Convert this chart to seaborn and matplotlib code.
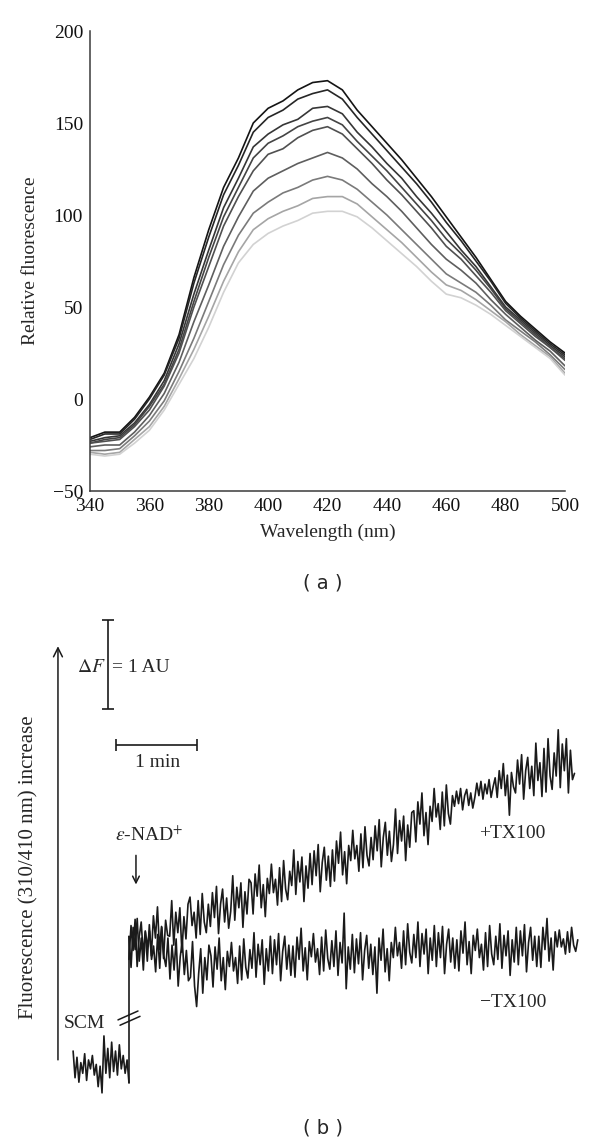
import numpy as np
import pandas as pd
import matplotlib
matplotlib.use("Agg")
import matplotlib.pyplot as plt
import seaborn as sns

# ---------------- panel (a): emission spectra ----------------
WAVELENGTH_NM = list(range(340, 501, 5))

SCAN_1 = [-21, -18, -18, -10, 1, 14, 35, 66, 92, 115, 131, 150, 158, 162, 168, 172, 173,
          168, 157, 148, 139, 130, 120, 110, 99, 88, 77, 65, 53, 45, 38, 31, 25]
SCAN_2 = [-22, -19, -19, -11, 0, 13, 33, 63, 88, 111, 127, 145, 153, 157, 163, 166, 168,
          163, 153, 144, 135, 126, 117, 107, 96, 86, 75, 64, 52, 44, 37, 30, 24]
SCAN_3 = [-23, -21, -20, -13, -3, 10, 30, 57, 81, 104, 120, 137, 144, 149, 152, 158, 159,
          155, 145, 137, 128, 120, 110, 101, 91, 81, 72, 61, 50, 43, 36, 29, 23]
SCAN_4 = [-24, -22, -21, -14, -4, 8, 27, 53, 77, 99, 115, 131, 139, 143, 148, 151, 153,
          149, 140, 132, 124, 115, 106, 97, 87, 79, 70, 60, 49, 42, 35, 28, 22]
SCAN_5 = [-24, -23, -22, -15, -6, 7, 25, 50, 72, 94, 110, 124, 133, 136, 142, 146, 148,
          144, 136, 128, 119, 111, 102, 93, 83, 76, 67, 58, 48, 41, 34, 28, 21]
SCAN_6 = [-26, -25, -25, -18, -9, 3, 20, 42, 62, 83, 99, 113, 120, 124, 128, 131, 134,
          131, 125, 117, 110, 102, 93, 84, 76, 70, 63, 54, 46, 39, 32, 26, 18]
SCAN_7 = [-28, -28, -27, -20, -12, -1, 15, 33, 53, 73, 89, 101, 107, 112, 115, 119, 121,
          119, 114, 107, 100, 92, 84, 76, 68, 63, 58, 51, 43, 37, 31, 24, 16]
SCAN_8 = [-29, -30, -29, -22, -15, -4, 11, 27, 45, 64, 80, 92, 98, 102, 105, 109, 110,
          110, 106, 99, 92, 85, 77, 69, 62, 59, 54, 48, 42, 35, 29, 23, 14]
SCAN_9 = [-30, -31, -30, -24, -17, -6, 8, 22, 39, 58, 74, 84, 90, 94, 97, 101, 102,
          102, 99, 93, 86, 79, 72, 64, 57, 55, 51, 46, 40, 34, 28, 22, 13]

SCAN_GRAYS = ["#141414", "#262626", "#363636", "#444444", "#505050",
              "#5e5e5e", "#7a7a7a", "#a5a5a5", "#d2d2d2"]

# ---------------- panel (b): kinetic traces ----------------
# SCM baseline before the break (minutes before the addition)
SCM_MIN = -0.69
SCM_SIGNAL = [0.55, 0.25, 0.48, 0.20, 0.42, 0.30, 0.52, 0.22, 0.45, 0.35,
              0.50, 0.28, 0.40, 0.15, 0.38, 0.08, 0.72, 0.30, 0.58, 0.25,
              0.65, 0.32, 0.55, 0.28, 0.62, 0.35, 0.50, 0.30, 0.45, 0.19]

TRACE_MIN = 5.5
PLUS_TX100 = [
    1.58, 1.96, 1.68, 2.03, 1.50, 1.83, 2.00, 1.63, 1.90, 1.56,
    1.97, 1.62, 2.07, 1.82, 2.17, 1.69, 1.95, 1.59, 2.02, 1.85,
    1.84, 2.24, 1.74, 2.11, 1.88, 2.16, 1.66, 2.06, 1.81, 2.20,
    2.28, 1.96, 2.11, 1.82, 2.24, 1.86, 2.32, 2.00, 1.88, 2.20,
    1.95, 2.33, 2.05, 2.40, 1.87, 2.20, 2.37, 2.00, 2.27, 1.93,
    2.12, 2.52, 2.02, 2.39, 2.16, 2.44, 1.94, 2.34, 2.09, 2.48,
    2.44, 2.09, 2.54, 2.29, 2.64, 2.16, 2.42, 2.06, 2.49, 2.32,
    2.65, 2.33, 2.48, 2.19, 2.61, 2.23, 2.69, 2.37, 2.25, 2.57,
    2.41, 2.81, 2.31, 2.68, 2.45, 2.73, 2.23, 2.63, 2.38, 2.77,
    2.42, 2.80, 2.52, 2.87, 2.34, 2.67, 2.84, 2.47, 2.74, 2.40,
    2.81, 2.46, 2.91, 2.66, 3.01, 2.53, 2.79, 2.43, 2.86, 2.69,
    3.03, 2.71, 2.86, 2.57, 2.99, 2.61, 3.07, 2.75, 2.63, 2.95,
    2.70, 3.08, 2.80, 3.15, 2.62, 2.95, 3.12, 2.75, 3.02, 2.68,
    2.87, 3.27, 2.77, 3.14, 2.91, 3.19, 2.69, 3.09, 2.84, 3.23,
    3.25, 2.90, 3.35, 3.10, 3.45, 2.97, 3.23, 2.87, 3.30, 3.13,
    3.50, 3.18, 3.33, 3.04, 3.46, 3.08, 3.54, 3.22, 3.10, 3.42,
    3.30, 3.47, 3.33, 3.50, 3.26, 3.42, 3.49, 3.31, 3.45, 3.28,
    3.40, 3.56, 3.42, 3.58, 3.38, 3.55, 3.44, 3.60, 3.40, 3.52,
    3.62, 3.40, 3.70, 3.50, 3.78, 3.42, 3.65, 3.20, 3.68, 3.52,
    3.45, 3.82, 3.55, 3.88, 3.38, 3.70, 3.85, 3.50, 3.75, 3.42,
    4.01, 3.59, 3.79, 3.41, 3.95, 3.46, 4.06, 3.64, 3.49, 3.90,
    3.64, 4.16, 3.51, 4.00, 3.70, 4.06, 3.45, 3.93, 3.60, 3.67,
]
MINUS_TX100 = [
    1.84, 1.49, 1.94, 1.69, 2.04, 1.56, 1.82, 1.46, 1.89, 1.72,
    1.90, 1.58, 1.73, 1.44, 1.86, 1.48, 1.94, 1.62, 1.50, 1.82,
    1.36, 1.74, 1.46, 1.81, 1.28, 1.61, 1.78, 1.41, 1.68, 1.34,
    1.38, 1.78, 1.28, 1.05, 1.42, 1.70, 1.20, 1.60, 1.35, 1.74,
    1.62, 1.27, 1.72, 1.47, 1.82, 1.34, 1.60, 1.24, 1.67, 1.50,
    1.77, 1.45, 1.60, 1.31, 1.73, 1.35, 1.81, 1.49, 1.37, 1.69,
    1.48, 1.88, 1.38, 1.75, 1.52, 1.80, 1.30, 1.70, 1.45, 1.84,
    1.42, 1.80, 1.52, 1.87, 1.34, 1.67, 1.84, 1.47, 1.74, 1.40,
    1.73, 1.38, 1.83, 1.58, 1.93, 1.45, 1.71, 1.35, 1.78, 1.61,
    1.87, 1.55, 1.70, 1.41, 1.83, 1.45, 1.91, 1.59, 1.47, 1.79,
    1.50, 1.90, 1.40, 1.77, 1.54, 2.10, 1.25, 1.72, 1.47, 1.86,
    1.43, 1.81, 1.53, 1.88, 1.35, 1.68, 1.85, 1.48, 1.75, 1.41,
    1.72, 1.20, 1.82, 1.57, 1.92, 1.44, 1.70, 1.34, 1.77, 1.60,
    1.94, 1.62, 1.77, 1.48, 1.90, 1.52, 1.98, 1.66, 1.54, 1.86,
    1.60, 2.00, 1.50, 1.87, 1.64, 1.92, 1.42, 1.82, 1.57, 1.96,
    1.50, 1.88, 1.60, 1.95, 1.42, 1.75, 1.92, 1.55, 1.82, 1.48,
    1.80, 1.45, 1.90, 1.65, 2.00, 1.52, 1.78, 1.42, 1.85, 1.68,
    1.92, 1.60, 1.75, 1.46, 1.88, 1.50, 1.96, 1.64, 1.52, 1.84,
    1.58, 1.98, 1.48, 1.85, 1.62, 1.90, 1.40, 1.80, 1.55, 1.94,
    1.52, 1.90, 1.62, 1.97, 1.44, 1.77, 1.94, 1.57, 1.84, 1.50,
    1.84, 1.49, 1.94, 1.69, 2.04, 1.56, 1.82, 1.46, 1.89, 1.72,
    1.91, 1.72, 1.81, 1.64, 1.89, 1.66, 1.94, 1.74, 1.67, 1.80,
]

TRACE_COLOR = "#1a1a1a"


def build_spectra():
    scans = [SCAN_1, SCAN_2, SCAN_3, SCAN_4, SCAN_5, SCAN_6, SCAN_7, SCAN_8, SCAN_9]
    frames = []
    for i, vals in enumerate(scans):
        frames.append(pd.DataFrame({"wavelength": WAVELENGTH_NM,
                                    "fluorescence": vals,
                                    "scan": f"scan {i + 1}"}))
    return pd.concat(frames, ignore_index=True)


def build_traces():
    scm = pd.DataFrame({"minutes": np.linspace(SCM_MIN, 0, len(SCM_SIGNAL)),
                        "signal": SCM_SIGNAL, "trace": "SCM"})
    plus = pd.DataFrame({"minutes": np.linspace(0, TRACE_MIN, len(PLUS_TX100)),
                         "signal": PLUS_TX100, "trace": "+TX100"})
    minus = pd.DataFrame({"minutes": np.linspace(0, TRACE_MIN + 0.04, len(MINUS_TX100)),
                          "signal": MINUS_TX100, "trace": "-TX100"})
    return pd.concat([scm, plus, minus], ignore_index=True)


sns.set_theme(style="white")
plt.rcParams["font.family"] = ["Liberation Serif", "DejaVu Serif"]
plt.rcParams["mathtext.fontset"] = "stix"
plt.rcParams["axes.unicode_minus"] = True

fig = plt.figure(figsize=(6, 11.45), dpi=100)

# ---- (a) ----
ax_a = fig.add_axes([90 / 600, 1 - 491 / 1145, 475 / 600, 460 / 1145])
spectra = build_spectra()
sns.lineplot(data=spectra, x="wavelength", y="fluorescence", hue="scan",
             palette=SCAN_GRAYS, linewidth=1.2, legend=False, ax=ax_a)
ax_a.set_xlim(340, 500)
ax_a.set_ylim(-50, 200)
ax_a.set_xticks(range(340, 501, 20))
ax_a.set_yticks(range(-50, 201, 50))
sns.despine(ax=ax_a)
for side in ("left", "bottom"):
    ax_a.spines[side].set_color("#3a3a3a")
    ax_a.spines[side].set_linewidth(1.1)
ax_a.tick_params(direction="in", length=6, width=1, color="#3a3a3a",
                 labelsize=14, labelcolor="#111111", pad=5)
ax_a.set_xlabel("Wavelength (nm)", fontsize=14, labelpad=6)
ax_a.set_ylabel("Relative fluorescence", fontsize=14, labelpad=10)
fig.text(323 / 600, 1 - 583 / 1145, "( a )", family="DejaVu Sans",
         fontsize=14, ha="center", va="center")

# ---- (b) ----
ax_b = fig.add_axes([0, 0, 1, 545 / 1145])
ax_b.set_xlim(-129 / 81, 471 / 81)
ax_b.set_ylim(-45 / 89, 500 / 89)
ax_b.axis("off")

traces = build_traces()
sns.lineplot(data=traces, x="minutes", y="signal", hue="trace", units="trace",
             estimator=None, sort=False, palette=[TRACE_COLOR] * 3,
             linewidth=1.2, legend=False, ax=ax_b)
# jump at the moment of addition
ax_b.vlines(0, SCM_SIGNAL[-1], max(PLUS_TX100[0], MINUS_TX100[0]),
            color=TRACE_COLOR, linewidth=1.2)
# break marks on the jump
ax_b.plot([-0.136, 0.111], [0.90, 1.00], color=TRACE_COLOR, linewidth=1.1)
ax_b.plot([-0.111, 0.136], [0.84, 0.94], color=TRACE_COLOR, linewidth=1.1)

# scale bars
ax_b.errorbar(-0.259, 4.89, yerr=0.5, capsize=4, color=TRACE_COLOR,
              elinewidth=1.2, capthick=1.2)
ax_b.errorbar(0.34, 3.99, xerr=0.5, capsize=4, color=TRACE_COLOR,
              elinewidth=1.2, capthick=1.2)
ax_b.text(-0.29, 4.86, r"$\Delta F$", fontsize=14, ha="right", va="center")
ax_b.text(-0.21, 4.86, "= 1 AU", fontsize=14, ha="left", va="center")
ax_b.text(0.358, 3.79, "1 min", fontsize=14, ha="center", va="center")

# addition arrow
ax_b.text(0.247, 2.97, r"$\varepsilon$-NAD$^{+}$", fontsize=14, ha="center", va="center")
ax_b.annotate("", xy=(0.086, 2.39), xytext=(0.086, 2.78),
              arrowprops=dict(arrowstyle="->", color=TRACE_COLOR, lw=1.1))

ax_b.text(4.73, 3.00, "+TX100", fontsize=14, ha="center", va="center")
ax_b.text(4.74, 1.09, "\u2212TX100", fontsize=14, ha="center", va="center")
ax_b.text(-0.29, 0.865, "SCM", fontsize=14, ha="right", va="center")

# y direction arrow and label
ax_b.annotate("", xy=(-0.877, 5.13), xytext=(-0.877, 0.42),
              arrowprops=dict(arrowstyle="->", color=TRACE_COLOR, lw=1.1,
                              mutation_scale=16))
ax_b.text(-1.235, 2.62, "Fluorescence (310/410 nm) increase", fontsize=15,
          rotation=90, ha="center", va="center")

fig.text(323 / 600, 1 - 1128 / 1145, "( b )", family="DejaVu Sans",
         fontsize=14, ha="center", va="center")

fig.savefig("out.png", dpi=100)
plt.close(fig)
